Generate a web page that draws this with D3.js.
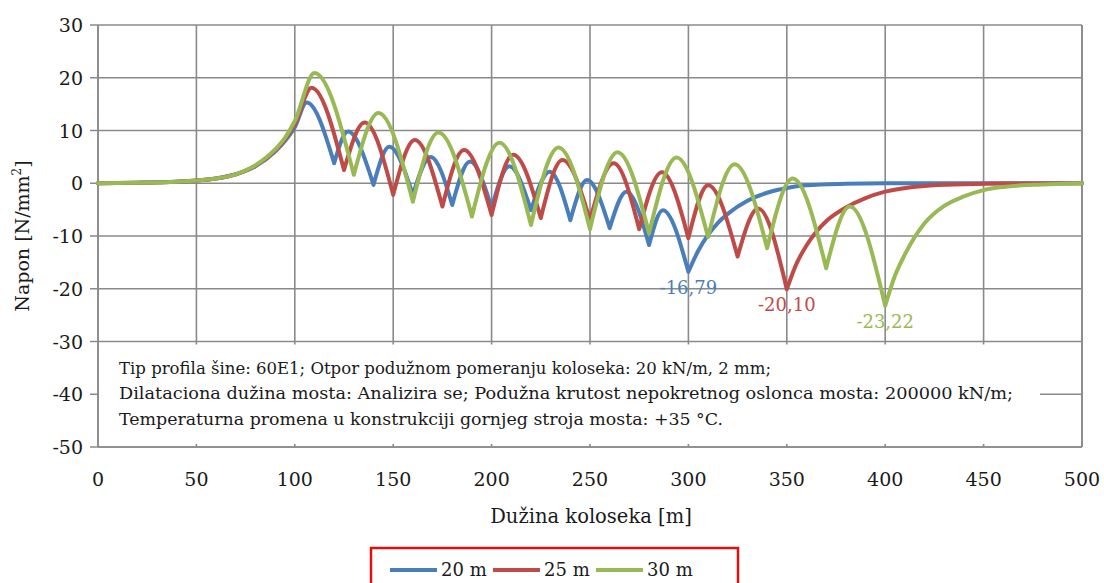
<!DOCTYPE html>
<html>
<head>
<meta charset="utf-8">
<script src="https://cdn.jsdelivr.net/npm/d3@7"></script>
<style>
  html,body{margin:0;padding:0;background:#fff;}
  svg text{font-family:"DejaVu Serif","Liberation Serif",serif;fill:#1a1a1a;}
</style>
</head>
<body>
<div id="chart"></div>
<script>
// Napon u šini duž koloseka za tri dilatacione dužine mosta
const xTicks = [0,50,100,150,200,250,300,350,400,450,500];
const yTicks = [30,20,10,0,-10,-20,-30,-40,-50];

const seriesNames = ['20 m','25 m','30 m'];
const seriesColors = ['#4a7ebb','#be4b48','#98b954'];

// [x, napon]
const span20 = [[0,0],[20,0.1],[40,0.3],[50,0.5],[60,0.9],[70,1.7],[80,3.2],[90,6.0],[95,8.0],[100,10.6],[106,15.3],
  [120,3.8],[127,9.8],[140,-0.3],[148,6.9],[160,-2.2],[169,5.0],[180,-4.1],[189,4.1],[200,-4.7],[209,3.2],
  [220,-5.1],[229.5,2.2],[240,-7.0],[248.5,0.6],[260,-8.5],[268.5,-1.6],[280,-11.7],[287,-5.1],[300,-16.79],
  [305,-12.8],[310,-9.8],[315,-7.5],[320,-5.8],[330,-3.3],[340,-1.8],[350,-0.9],[360,-0.4],[380,-0.1],[400,0],[500,0]];
const span25 = [[0,0],[20,0.1],[40,0.3],[50,0.5],[60,0.9],[70,1.7],[80,3.3],[90,6.2],[95,8.3],[100,11.2],[108.5,18.1],
  [125,2.5],[135.5,11.5],[150,-2.2],[161,8.2],[175,-4.4],[186,6.3],[200,-6.0],[211,5.4],[225,-6.6],[236,4.4],
  [250,-7.0],[262,3.8],[275,-8.7],[286.5,2.1],[300,-10.4],[310,-0.4],[325,-13.9],[335.5,-4.8],[350,-20.10],
  [355,-15.2],[360,-11.8],[365,-9.2],[370,-7.2],[380,-4.6],[390,-2.8],[400,-1.6],[420,-0.5],[440,-0.2],[460,-0.05],[500,0]];
const span30 = [[0,0],[20,0.1],[40,0.3],[50,0.5],[60,0.9],[70,1.7],[80,3.4],[90,6.4],[95,8.6],[100,11.8],[110,20.9],
  [130,1.6],[142.5,13.3],[160,-3.5],[173,9.6],[190,-6.3],[204,7.7],[220,-7.9],[234,6.8],[250,-8.7],[264,5.9],
  [280,-9.5],[294,4.9],[310,-10.2],[323.5,3.6],[340,-12.3],[353,0.9],[370,-16.1],[382,-4.4],[400,-23.22],
  [405,-17.5],[410,-13.5],[420,-7.6],[430,-4.3],[440,-2.5],[450,-1.3],[460,-0.7],[475,-0.3],[490,-0.1],[500,0]];
const allSeries = [span20, span25, span30];

// minimum labels
const minX = [300,350,400];
const minY = [-16.79,-20.10,-23.22];
const minText = ['-16,79','-20,10','-23,22'];

const noteLines = [
  'Tip profila šine: 60E1; Otpor podužnom pomeranju koloseka: 20 kN/m, 2 mm;',
  'Dilataciona dužina mosta: Analizira se; Podužna krutost nepokretnog oslonca mosta: 200000 kN/m;',
  'Temperaturna promena u konstrukciji gornjeg stroja mosta: +35 °C.'
];
const noteWidths = [652, 894, 604];

const W = 1104, H = 583;
const svg = d3.select('#chart').append('svg').attr('width',W).attr('height',H);

const x = d3.scaleLinear().domain([0,500]).range([98,1082]);
const y = d3.scaleLinear().domain([-50,30]).range([447,25]);
const grid = '#8a8a8a';

// gridlines
svg.append('g').selectAll('line').data(xTicks).join('line')
  .attr('x1',d=>x(d)).attr('x2',d=>x(d)).attr('y1',y(30)).attr('y2',y(-50))
  .attr('stroke',grid).attr('stroke-width',1.6);
svg.append('g').selectAll('line').data(yTicks).join('line')
  .attr('x1',90).attr('x2',x(500)).attr('y1',d=>y(d)).attr('y2',d=>y(d))
  .attr('stroke',grid).attr('stroke-width',1.6);

// note box (white, hides grid)
svg.append('rect').attr('x',x(0)+1).attr('y',y(-30)+3)
  .attr('width',1040-x(0)-1).attr('height',y(-50)-y(-30)-6).attr('fill','#fff');
// redraw axis lines over box
svg.append('line').attr('x1',x(0)).attr('x2',x(0)).attr('y1',y(30)).attr('y2',y(-50)).attr('stroke',grid).attr('stroke-width',1.6);
svg.append('line').attr('x1',x(0)).attr('x2',x(500)).attr('y1',y(-50)).attr('y2',y(-50)).attr('stroke',grid).attr('stroke-width',1.6);
svg.append('line').attr('x1',x(500)).attr('x2',x(500)).attr('y1',y(30)).attr('y2',y(-50)).attr('stroke',grid).attr('stroke-width',1.6);

svg.append('g').selectAll('text').data(noteLines).join('text')
  .attr('x',119).attr('y',(d,i)=>y(-30)+32+i*25.8)
  .attr('font-size',17).attr('textLength',(d,i)=>noteWidths[i]).attr('lengthAdjust','spacingAndGlyphs')
  .text(d=>d);

// axis labels
svg.append('g').selectAll('text').data(yTicks).join('text')
  .attr('x',83).attr('y',d=>y(d)+7).attr('text-anchor','end').attr('font-size',19).text(d=>d);
svg.append('g').selectAll('text').data(xTicks).join('text')
  .attr('x',d=>x(d)).attr('y',486).attr('text-anchor','middle').attr('font-size',19).text(d=>d);

svg.append('text').attr('x',591).attr('y',523).attr('text-anchor','middle').attr('font-size',19.5).text('Dužina koloseka [m]');
const yt = svg.append('text').attr('transform','translate(29,236) rotate(-90)').attr('text-anchor','middle').attr('font-size',19);
yt.append('tspan').text('Napon [N/mm');
yt.append('tspan').attr('dy',-8).attr('font-size',12).text('2');
yt.append('tspan').attr('dy',8).text(']');

// series: split at cusps and draw each arch with monotone curve
function splitAtDips(pts){
  const segs = []; let cur = [pts[0]];
  for (let i=1;i<pts.length;i++){
    cur.push(pts[i]);
    if (i<pts.length-1 && pts[i][1]<pts[i-1][1] && pts[i][1]<pts[i+1][1]){
      segs.push(cur); cur = [pts[i]];
    }
  }
  segs.push(cur);
  return segs;
}
const line = d3.line().x(d=>x(d[0])).y(d=>y(d[1])).curve(d3.curveMonotoneX);

// draw in order 20, 25, 30 (30 m on top)
allSeries.forEach((s,i)=>{
  svg.append('path').attr('d',splitAtDips(s).map(seg=>line(seg)).join(''))
    .attr('fill','none').attr('stroke',seriesColors[i]).attr('stroke-width',4)
    .attr('stroke-linejoin','round').attr('stroke-linecap','round');
});

// min labels
svg.append('g').selectAll('text').data(minX).join('text')
  .attr('x',d=>x(d)).attr('y',(d,i)=>y(minY[i])+22).attr('text-anchor','middle')
  .attr('font-size',18).style('fill',(d,i)=>seriesColors[i]).text((d,i)=>minText[i]);

// legend
svg.append('rect').attr('x',371).attr('y',548).attr('width',367).attr('height',40)
  .attr('fill','#fff').attr('stroke','#e01010').attr('stroke-width',2.5);
const lg = svg.append('g').selectAll('g').data(seriesNames).join('g')
  .attr('transform',(d,i)=>`translate(${390+i*103},570)`);
lg.append('line').attr('x1',0).attr('x2',47).attr('stroke',(d,i)=>seriesColors[i]).attr('stroke-width',4);
lg.append('text').attr('x',51).attr('y',6).attr('font-size',18).text(d=>d);
</script>
</body>
</html>
